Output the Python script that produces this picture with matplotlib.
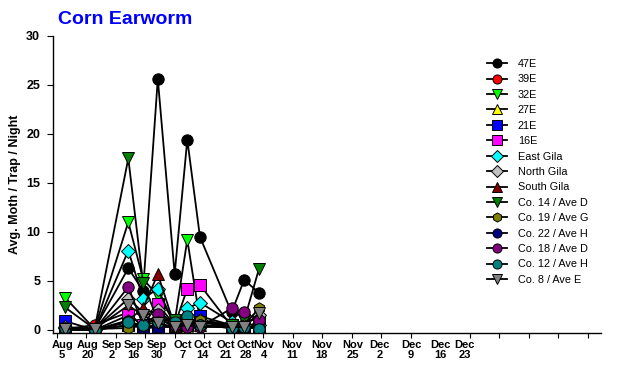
import matplotlib
matplotlib.use("Agg")
import matplotlib.pyplot as plt

plt.rcParams['font.family'] = ['Liberation Sans', 'DejaVu Sans']

# sample dates, in days from the first axis tick (ticks are weekly)
sample_days = [2, 9, 17, 20.5, 24, 28, 31, 34, 41.5, 44.5, 48]

# date labels on the x axis and where they sit (days)
date_labels = ['Aug\n5', 'Aug\n20', 'Sep\n2', 'Sep\n16', 'Sep\n30', 'Oct\n7', 'Oct\n14',
               'Oct\n21', 'Oct\n28', 'Nov\n4', 'Nov\n11', 'Nov\n18', 'Nov\n25', 'Dec\n2',
               'Dec\n9', 'Dec\n16', 'Dec\n23']
label_days = [1.3, 7.4, 13.1, 18.3, 23.8, 30.0, 34.7, 40.2, 44.9, 49.2, 55.8, 62.9,
              70.3, 76.7, 84.1, 91.0, 96.9]

# trap counts (avg moth / trap / night)
s47E = [0.2, 0.1, 6.3, 4.0, 25.6, 5.7, 19.4, 9.5, 1.8, 5.1, 3.8]
s39E = [0.1, 0.5, 1.8, 0.3, 0.5, 0.3, 0.4, 0.5, 0.3, 0.2, 0.3]
s32E = [3.3, 0.1, 11.0, 5.2, 3.5, 0.8, 9.2, 1.0, 0.5, 1.0, 1.0]
s27E = [0.0, 0.0, 0.5, 0.3, 0.5, 0.2, 0.3, 0.5, 0.2, 0.3, 0.5]
s21E = [0.9, 0.0, 0.5, 0.2, 0.3, 0.3, 0.5, 1.4, 0.5, 0.3, 0.3]
s16E = [0.1, 0.0, 1.5, 0.5, 2.6, 0.5, 4.2, 4.6, 0.4, 0.3, 0.8]
east_gila = [0.2, 0.0, 8.1, 3.2, 4.2, 0.5, 2.2, 2.8, 0.8, 0.5, 0.5]
north_gila = [0.3, 0.1, 3.2, 1.8, 2.0, 0.5, 0.8, 1.0, 0.5, 0.5, 1.5]
south_gila = [0.1, 0.0, 1.0, 2.2, 5.7, 0.4, 0.6, 0.8, 0.3, 0.2, 0.5]
co14_aveD = [2.3, 0.1, 17.5, 4.8, 1.0, 1.0, 1.0, 0.8, 0.5, 1.0, 6.2]
co19_aveG = [0.2, 0.1, 0.2, 0.5, 1.2, 0.3, 0.5, 1.0, 0.3, 0.5, 2.2]
co22_aveH = [0.1, 0.0, 0.9, 0.2, 0.3, 0.5, 0.3, 0.5, 0.3, 0.2, 0.3]
co18_aveD = [0.1, 0.0, 4.4, 0.5, 1.6, 0.5, 0.3, 0.3, 2.2, 1.8, 1.0]
co12_aveH = [0.2, 0.0, 0.8, 0.5, 0.8, 0.8, 1.4, 0.5, 0.2, 0.3, 0.1]
co8_aveE = [0.1, 0.1, 2.5, 1.5, 0.7, 0.3, 0.5, 0.3, 0.3, 0.3, 1.7]

series = [
    ('47E', s47E, 'o', 'black'),
    ('39E', s39E, 'o', 'red'),
    ('32E', s32E, 'v', '#00ff00'),
    ('27E', s27E, '^', 'yellow'),
    ('21E', s21E, 's', 'blue'),
    ('16E', s16E, 's', 'magenta'),
    ('East Gila', east_gila, 'D', 'cyan'),
    ('North Gila', north_gila, 'D', '#c0c0c0'),
    ('South Gila', south_gila, '^', '#800000'),
    ('Co. 14 / Ave D', co14_aveD, 'v', '#008000'),
    ('Co. 19 / Ave G', co19_aveG, 'h', '#808000'),
    ('Co. 22 / Ave H', co22_aveH, 'o', '#000080'),
    ('Co. 18 / Ave D', co18_aveD, 'o', '#800080'),
    ('Co. 12 / Ave H', co12_aveH, 'o', '#008080'),
    ('Co. 8 / Ave E', co8_aveE, 'v', '#808080'),
]

fig = plt.figure(figsize=(6.25, 3.82), dpi=100)
ax = fig.add_axes([0.0843, 0.129, 0.8773, 0.7775])

for name, vals, mk, col in series:
    ms = 7.2 if mk == 'D' else 8.2
    ax.plot(sample_days, vals, color='black', lw=1.3, marker=mk, ms=ms,
            mfc=col, mec='black', mew=0.7, label=name)

ax.set_xlim(-0.95, 129.2)
ax.set_ylim(-0.28, 30)

for side in ('top', 'right'):
    ax.spines[side].set_visible(False)
ax.spines['left'].set_linewidth(1.0)
ax.spines['bottom'].set_linewidth(1.0)

ax.set_yticks(range(0, 31, 5))
ax.tick_params(axis='y', direction='out', length=4, width=0.8, pad=5, labelsize=9)
for t in ax.get_yticklabels():
    t.set_fontweight('bold')

ax.set_xticks(label_days, date_labels)
ax.set_xticks(range(0, 127, 7), minor=True)
ax.tick_params(axis='x', which='major', length=0, pad=5, labelsize=8)
ax.tick_params(axis='x', which='minor', direction='out', length=3.5, width=0.8)
for t in ax.get_xticklabels():
    t.set_fontweight('bold')
    t.set_linespacing(1.1)

ax.set_ylabel('Avg. Moth / Trap / Night', fontsize=9, fontweight='bold', labelpad=4)

fig.text(58 / 625, 1 - 24 / 382, 'Corn Earworm', color='blue', fontsize=14,
         fontweight='bold', ha='left', va='baseline')

ax.legend(loc='upper left', bbox_to_anchor=(487 / 625, 1 - 59 / 382),
          bbox_transform=fig.transFigure, frameon=False, fontsize=7.8,
          handlelength=1.85, handletextpad=1.0, labelspacing=0.5,
          borderpad=0, borderaxespad=0, markerscale=0.8)

fig.savefig('out.png', dpi=100)
